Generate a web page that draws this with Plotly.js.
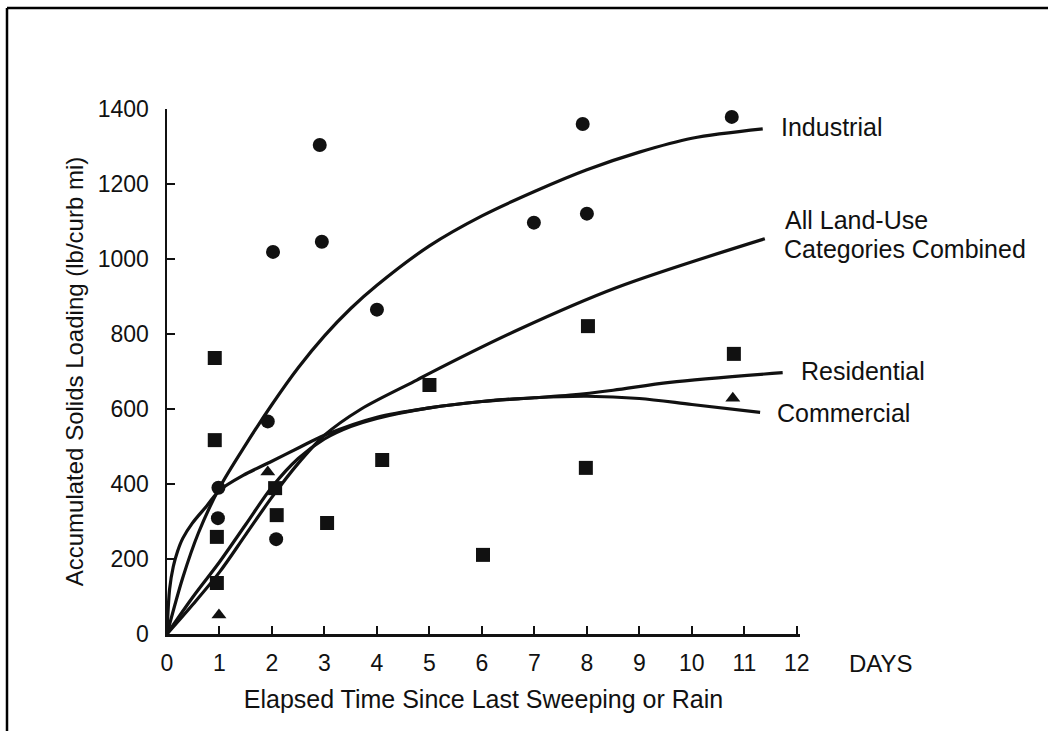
<!DOCTYPE html>
<html><head><meta charset="utf-8">
<script src="https://cdn.plot.ly/plotly-3.0.1.min.js"></script>
<style>html,body{margin:0;padding:0;background:#fff;}#chart{width:1048px;height:731px;}</style>
</head><body><div id="chart"></div>
<script>
// ---- data ----
const xTickVals = [0,1,2,3,4,5,6,7,8,9,10,11,12];
const yTickVals = [0,200,400,600,800,1000,1200,1400];

// observed loadings (lb/curb mi) by land use
const industrialObsX = [0.97, 0.98, 1.92, 2.02, 2.08, 2.91, 2.95, 4.0, 6.99, 7.92, 8.0, 10.76];
const industrialObsY = [309, 390, 567, 1019, 253, 1304, 1046, 865, 1097, 1360, 1121, 1379];
const residentialObsX = [0.91, 0.91, 0.95, 0.95, 2.06, 2.09, 3.05, 4.1, 5.0, 6.02, 7.98, 8.02, 10.8];
const residentialObsY = [736, 517, 259, 136, 389, 317, 296, 464, 664, 211, 443, 821, 747];
const commercialObsX = [0.99, 1.92, 10.78];
const commercialObsY = [51, 432, 629];

// fitted curves
const industrialCurveX = [0, 0.3, 0.6, 1, 1.5, 2, 2.5, 3, 3.5, 4, 5, 6, 7, 8, 9, 10, 11.35];
const industrialCurveY = [0, 150, 270, 390, 505, 612, 710, 795, 868, 930, 1035, 1115, 1180, 1238, 1285, 1322, 1347];
const allLandCurveX = [0, 0.5, 1, 1.5, 2, 2.5, 3, 3.7, 4.76, 5.0, 6.7, 8.57, 11.39];
const allLandCurveY = [0, 80, 165, 265, 365, 455, 530, 600, 677, 695, 812, 924, 1054];
const residentialCurveX = [0, 0.5, 1, 1.5, 2, 2.5, 3, 3.5, 4, 5, 6, 7, 7.68, 8.5, 9.58, 11.73];
const residentialCurveY = [0, 100, 192, 292, 392, 468, 520, 553, 575, 603, 620, 630, 637, 650, 671, 697];
const commercialCurveX = [0, 0.05, 0.12, 0.2, 0.3, 0.48, 0.76, 1, 1.45, 1.96, 2.53, 3, 4, 5, 6, 7, 8, 9, 10, 11.3];
const commercialCurveY = [0, 120, 180, 220, 255, 295, 342, 383, 423, 458, 498, 530, 578, 603, 620, 630, 634, 628, 612, 591];

const curveLabels = ['Industrial', 'All Land-Use', 'Categories Combined', 'Residential', 'Commercial'];
const xTitle = 'Elapsed Time Since Last Sweeping or Rain';
const yTitle = 'Accumulated Solids Loading (lb/curb mi)';
const unitLabel = 'DAYS';

// ---- layout helpers (pixel -> paper) ----
const L = 167, R = 248, T = 109, B = 97, FW = 1048, FH = 731;
const W = FW - L - R, H = FH - T - B;
const px = x => (x - L) / W;
const py = y => (FH - B - y) / H;

const ink = '#111111';
const FONT = 'Liberation Sans, Arial, Helvetica, sans-serif';

function curve(x, y, name) {
  return {x: x, y: y, name: name, type: 'scatter', mode: 'lines',
    line: {color: ink, width: 3.2, shape: 'spline', smoothing: 0.9}, hoverinfo: 'skip', cliponaxis: false};
}
function pts(x, y, name, symbol, size) {
  return {x: x, y: y, name: name, type: 'scatter', mode: 'markers',
    marker: {symbol: symbol, size: size, color: ink, line: {width: 0}}, cliponaxis: false};
}

const traces = [
  curve(industrialCurveX, industrialCurveY, 'Industrial'),
  curve(allLandCurveX, allLandCurveY, 'All Land-Use Categories Combined'),
  curve(residentialCurveX, residentialCurveY, 'Residential'),
  curve(commercialCurveX, commercialCurveY, 'Commercial'),
  pts(industrialObsX, industrialObsY, 'Industrial data', 'circle', 14),
  pts(residentialObsX, residentialObsY, 'Residential data', 'square', 14),
  pts(commercialObsX, commercialObsY, 'Commercial data', 'triangle-up', 13)
];

function label(text, xpx, ypx, size) {
  return {text: text, xref: 'paper', yref: 'paper', x: px(xpx), y: py(ypx),
    xanchor: 'left', yanchor: 'middle', showarrow: false, borderpad: 0,
    font: {family: FONT, size: size || 25, color: ink}};
}

const layout = {
  width: FW, height: FH,
  margin: {l: L, r: R, t: T, b: B, pad: 0},
  paper_bgcolor: '#ffffff', plot_bgcolor: '#ffffff',
  showlegend: false,
  font: {family: FONT, color: ink},
  xaxis: {
    range: [0, 12.06], tickvals: xTickVals, ticktext: xTickVals.map(String),
    ticks: 'inside', ticklen: 8, tickwidth: 2, tickcolor: ink,
    showline: true, linecolor: ink, linewidth: 2.5, showgrid: false, zeroline: false,
    tickfont: {family: FONT, size: 23, color: ink}, ticklabelstandoff: 7,
    title: {text: xTitle, font: {family: FONT, size: 25, color: ink}, standoff: 16}
  },
  yaxis: {
    range: [0, 1400], tickvals: yTickVals, ticktext: yTickVals.map(String),
    ticks: 'inside', ticklen: 8, tickwidth: 2, tickcolor: ink,
    showline: true, linecolor: ink, linewidth: 2.5, showgrid: false, zeroline: false,
    tickfont: {family: FONT, size: 23, color: ink}, ticklabelstandoff: 11,
    title: {text: yTitle, font: {family: FONT, size: 24, color: ink}, standoff: 8}
  },
  annotations: [
    label(curveLabels[0], 780, 127),
    label(curveLabels[1], 784, 220),
    label(curveLabels[2], 783, 249),
    label(curveLabels[3], 800, 371),
    label(curveLabels[4], 776, 413),
    label(unitLabel, 848, 663, 24)
  ],
  shapes: [
    {type: 'line', xref: 'paper', yref: 'paper', x0: px(7), y0: py(8), x1: px(1060), y1: py(8), line: {color: '#000', width: 2.5}},
    {type: 'line', xref: 'paper', yref: 'paper', x0: px(7), y0: py(8), x1: px(7), y1: py(740), line: {color: '#000', width: 2.5}}
  ]
};

Plotly.newPlot('chart', traces, layout, {displayModeBar: false, staticPlot: true});
</script>
</body></html>
